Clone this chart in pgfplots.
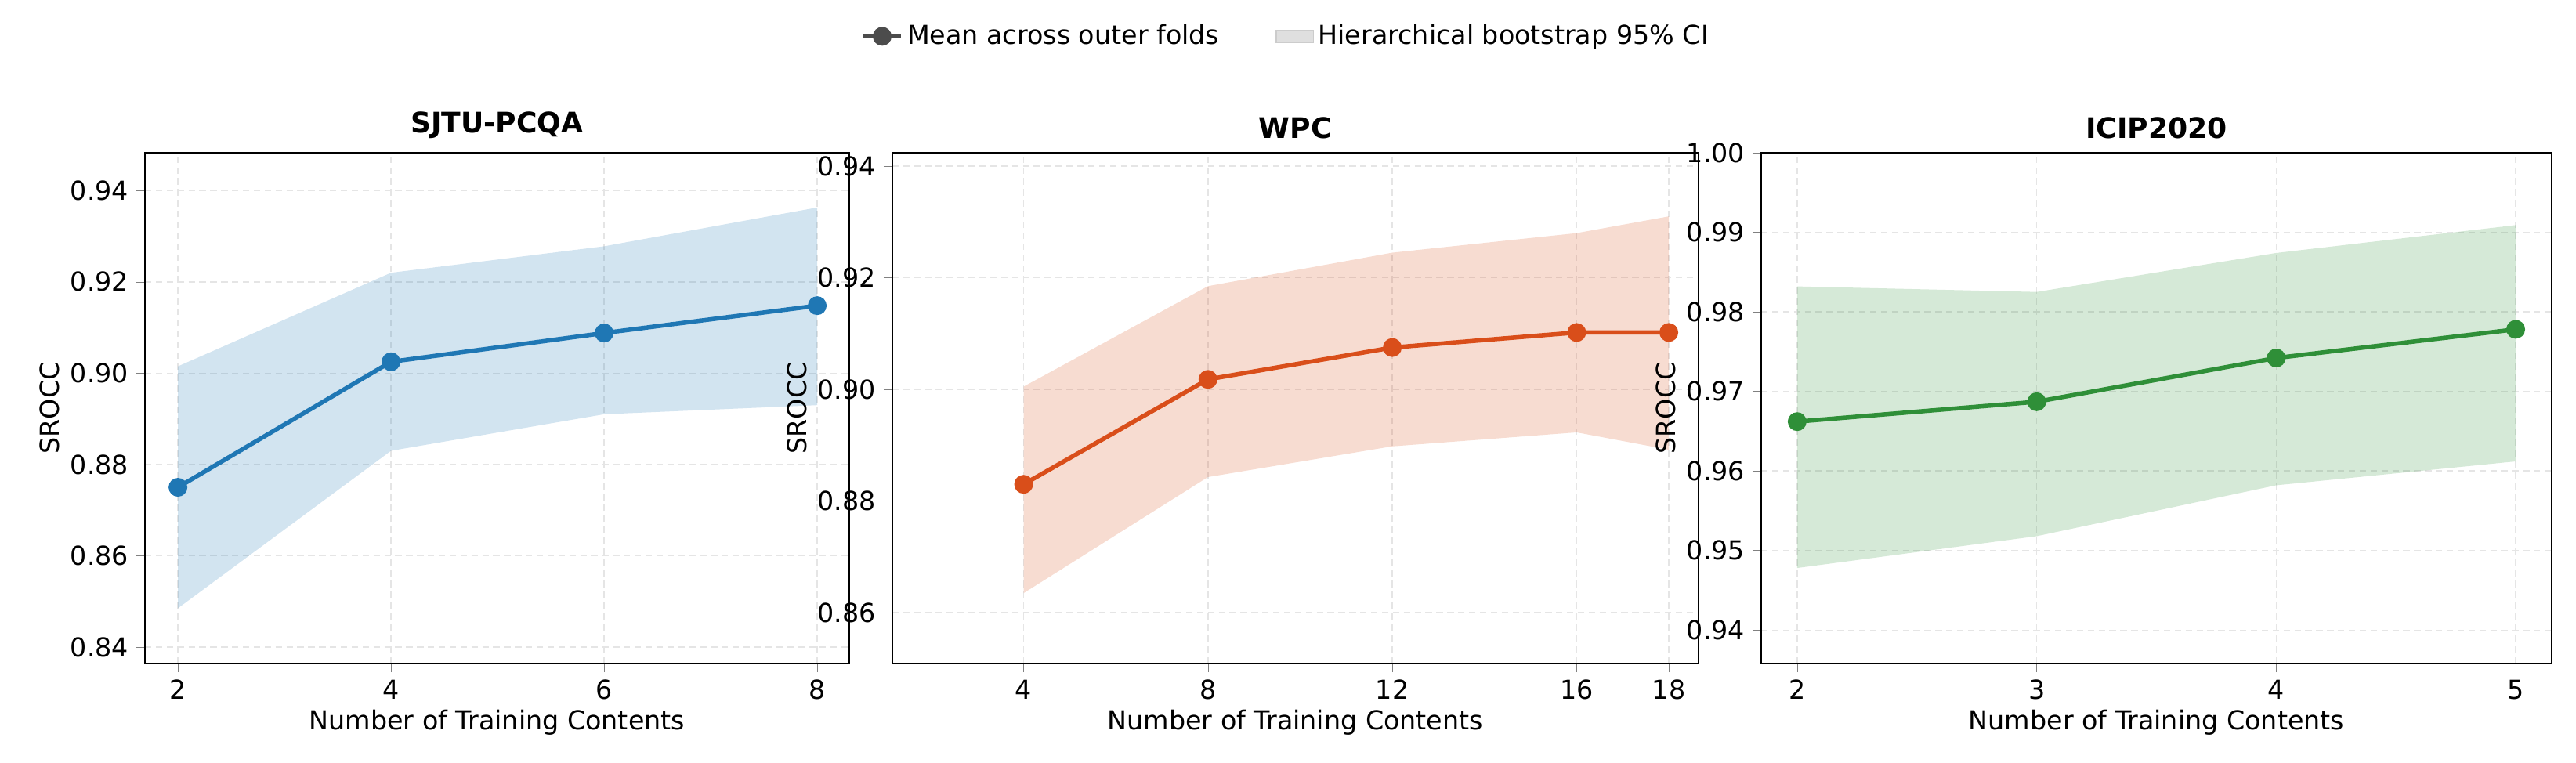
\documentclass[border=0pt]{standalone}
\usepackage{pgfplots}
\pgfplotsset{compat=1.18}
\usepackage{fontspec}
\setmainfont{DejaVu Sans}
\definecolor{c1}{HTML}{1F77B4}
\definecolor{c2}{HTML}{D94E1A}
\definecolor{c3}{HTML}{2F8F38}
\pgfplotsset{every axis/.style={scale only axis, height=234.7pt, anchor=south west,
  /pgf/number format/assume math mode=true, font=\fontsize{12}{14}\selectfont,
  tick align=outside, tick pos=lower, major tick length=4pt,
  grid=major, grid style={densely dashed, gray!20, line width=0.5pt},
  axis line style={line width=0.8pt},
  title style={font=\fontsize{13}{15}\selectfont\bfseries, yshift=-3pt},
  xlabel={Number of Training Contents}, ylabel={SROCC},
  xlabel style={yshift=2pt}, ylabel style={yshift=-2pt},
  yticklabel style={/pgf/number format/fixed,/pgf/number format/fixed zerofill,/pgf/number format/precision=2}}}
\begin{document}
\begin{tikzpicture}
\path[use as bounding box] (0,0) rectangle (1183.7pt,350.3pt);
\begin{axis}[at={(66.6pt,45.4pt)}, width=323.6pt, title={SJTU-PCQA},
  xmin=1.69, xmax=8.3, ymin=0.8364, ymax=0.9483, xtick={2,4,6,8}, ytick={0.84,0.86,...,0.941}]
\addplot[fill=c1, fill opacity=0.2, draw=none] coordinates {(2,0.9015)(4,0.922)(6,0.9278)(8,0.9363)(8,0.893)(6,0.891)(4,0.883)(2,0.8485)} -- cycle;
\addplot[c1, line width=2pt, mark=*, mark size=3.3pt] coordinates {(2,0.875)(4,0.9025)(6,0.9088)(8,0.9148)};
\end{axis}
\begin{axis}[at={(410pt,45.4pt)}, width=370.4pt, title={WPC},
  xmin=1.15, xmax=18.64, ymin=0.8509, ymax=0.9424, xtick={4,8,12,16,18}, ytick={0.86,0.88,...,0.941},
  legend columns=2, legend style={draw=none, fill=none, at={(0.49,1.228)}, anchor=center,
   /tikz/every even column/.append style={column sep=24pt}, font=\fontsize{12}{14}\selectfont,
   legend cell align=left}]
\addlegendimage{black!70, line width=2pt, mark=*, mark size=3.3pt}
\addlegendentry{Mean across outer folds}
\addlegendimage{area legend, fill=gray!25, draw=gray!40}
\addlegendentry{Hierarchical bootstrap 95\% CI}
\addplot[fill=c2, fill opacity=0.2, draw=none, forget plot] coordinates {(4,0.9005)(8,0.9185)(12,0.9245)(16,0.928)(18,0.931)(18,0.8892)(16,0.8923)(12,0.8898)(8,0.8843)(4,0.8635)} -- cycle;
\addplot[c2, line width=2pt, mark=*, mark size=3.3pt, forget plot] coordinates {(4,0.883)(8,0.9018)(12,0.9075)(16,0.9102)(18,0.9102)};
\end{axis}
\begin{axis}[at={(809.3pt,45.4pt)}, width=363.2pt, title={ICIP2020},
  xmin=1.85, xmax=5.15, ymin=0.9358, ymax=1.0, xtick={2,3,4,5}, ytick={0.94,0.95,...,1.001}]
\addplot[fill=c3, fill opacity=0.2, draw=none] coordinates {(2,0.9832)(3,0.9825)(4,0.9874)(5,0.9909)(5,0.9612)(4,0.9582)(3,0.9518)(2,0.9478)} -- cycle;
\addplot[c3, line width=2pt, mark=*, mark size=3.3pt] coordinates {(2,0.9662)(3,0.9687)(4,0.9742)(5,0.9778)};
\end{axis}
\end{tikzpicture}
\end{document}
